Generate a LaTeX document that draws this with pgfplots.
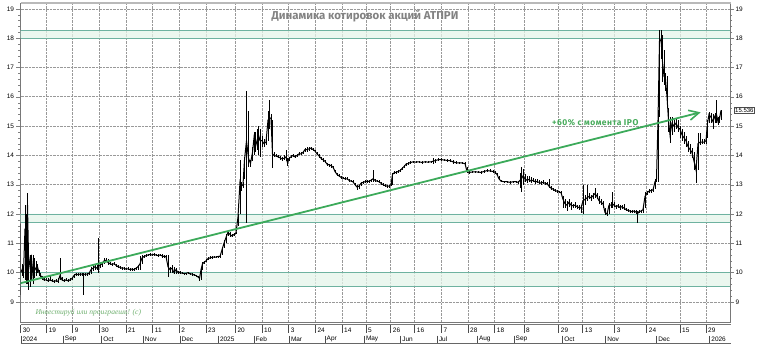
\documentclass[border=0pt]{standalone}
\usepackage{fontspec}
\setmainfont{Liberation Sans}
\newfontfamily\titlefont{Fira Sans}
\newfontfamily\greenfont[LetterSpace=6]{Fira Sans}
\newfontfamily\handfont{Liberation Serif}
\usepackage{pgfplots}
\usepackage{pgfplotstable}
\pgfplotsset{compat=1.18}
\usetikzlibrary{arrows.meta}
\definecolor{bandfill}{RGB}{228,244,234}
\definecolor{bandline}{RGB}{110,178,160}
\definecolor{trend}{RGB}{60,170,90}
\definecolor{txtgreen}{RGB}{70,170,90}
\definecolor{handgreen}{RGB}{110,175,110}
\definecolor{titlegray}{RGB}{130,130,130}
\definecolor{axgray}{RGB}{120,120,120}
\newcommand{\tickfont}{\fontsize{6.5}{7}\selectfont}

\pgfplotstableread{
x c lo hi
20.8 10.0 9.25 11.65
22 10.1 9.9 10.3
23.5 10.0 9.8 10.2
25 11.5 9.75 12.3
26.5 10.3 9.6 12.0
27.5 12.3 9.6 12.73
28.5 10.6 9.4 11.0
30 10.2 9.5 10.6
31.5 10.5 9.7 10.6
33 9.9 9.6 10.6
34.5 10.2 9.8 10.5
36 10.1 9.9 10.4
37.5 10.2 10.0 10.3
39 10.0 9.9 10.1
40.5 9.9 9.85 10.0
42 9.85 9.75 9.9
44 9.75 9.7 9.85
46 9.75 9.7 9.8
48 9.72 9.68 9.8
50 9.75 9.7 9.9
52 9.72 9.68 9.78
54 9.7 9.65 9.75
56 9.72 9.68 9.78
58 9.7 9.65 9.8
60 9.9 9.75 10.5
62 9.75 9.7 9.85
64 9.72 9.68 9.78
66 9.75 9.7 9.8
68 9.72 9.68 9.78
70 9.75 9.7 9.8
72 9.8 9.75 9.85
74 9.9 9.8 9.95
76 9.95 9.9 10.0
78 9.93 9.88 10.0
80 9.95 9.9 10.0
82 9.95 9.9 10.0
83.5 9.93 9.24 9.98
85 9.95 9.9 10.0
87 9.95 9.9 10.0
89 9.97 9.92 10.02
91 10.1 9.95 10.2
93 10.15 10.05 10.25
95 10.2 10.1 10.25
97 10.15 10.1 10.25
98.5 10.2 9.99 11.18
100 10.25 10.15 10.3
102 10.3 10.2 10.35
104 10.4 10.3 10.5
106 10.42 10.35 10.5
108 10.35 10.25 10.45
110 10.3 10.25 10.35
112 10.28 10.22 10.33
114 10.3 10.25 10.35
116 10.25 10.2 10.3
118 10.2 10.15 10.25
120 10.18 10.12 10.22
122 10.15 10.1 10.2
124 10.15 10.1 10.2
126 10.12 10.08 10.17
128 10.13 10.08 10.18
130 10.1 10.05 10.15
132 10.12 10.07 10.17
134 10.1 10.05 10.15
136 10.15 10.1 10.2
138 10.2 10.1 10.25
140 10.3 10.1 10.55
142 10.5 10.3 10.6
144 10.55 10.5 10.6
146 10.58 10.52 10.62
148 10.6 10.55 10.65
150 10.62 10.55 10.67
152 10.6 10.55 10.65
154 10.62 10.57 10.67
156 10.6 10.55 10.65
158 10.58 10.53 10.63
160 10.6 10.55 10.65
162 10.57 10.5 10.62
164 10.55 10.5 10.6
166 10.55 10.45 10.6
168 10.2 9.85 10.6
170 10.1 10.0 10.2
172 10.15 10.0 10.25
174 10.0 9.95 10.2
176 10.1 9.95 10.15
178 10.0 9.95 10.05
180 10.0 9.96 10.04
182 9.98 9.94 10.02
184 9.97 9.93 10.0
186 9.97 9.93 10.0
188 10.0 9.95 10.03
190 9.96 9.92 10.0
192 9.95 9.9 9.98
194 9.92 9.88 9.96
196 9.9 9.85 9.93
198 9.85 9.8 9.9
199.5 9.8 9.72 9.85
201 10.1 9.75 10.2
202.5 10.3 10.1 10.35
204 10.35 10.28 10.4
206 10.4 10.35 10.45
208 10.48 10.42 10.52
210 10.5 10.45 10.55
212 10.52 10.48 10.56
214 10.53 10.5 10.56
216 10.53 10.5 10.56
218 10.55 10.5 10.58
220 10.55 10.5 10.6
222 10.78 10.6 10.85
224 11.0 10.85 11.1
226 11.2 11.0 11.3
228 11.38 11.25 11.45
230 11.3 11.2 11.4
232 11.25 11.2 11.3
234 11.3 11.25 11.35
236 11.35 11.3 11.4
238 11.9 11.6 12.0
240 13.1 12.0 13.85
241.5 12.95 12.8 13.1
243 13.0 12.9 13.1
244.5 13.85 13.2 13.95
246.5 14.5 11.7 16.18
248.5 13.9 13.6 15.5
250.5 13.72 13.6 13.85
252.5 14.1 13.8 14.3
254 14.6 14.0 14.8
255.5 14.3 14.1 14.8
257 14.5 14.2 14.9
258.5 14.7 14.0 15.0
260 14.5 13.95 14.9
262 14.5 14.3 14.65
264 14.4 14.3 14.55
266 14.45 14.35 14.6
268 15.2 14.5 15.5
269.5 15.3 14.9 15.89
271 15.25 14.9 15.4
272.5 14.05 13.57 15.2
274 14.0 13.95 14.1
276 13.98 13.93 14.05
278 13.95 13.9 14.0
280 13.92 13.85 13.98
282 13.88 13.82 13.95
284 13.9 13.85 14.0
286 13.95 13.8 14.2
287.5 13.75 13.65 13.9
289 13.9 13.8 13.95
291 13.95 13.9 14.0
293 14.0 13.95 14.05
295 13.95 13.9 14.0
297 14.0 13.95 14.05
299 14.05 14.0 14.1
301 14.05 14.0 14.12
303 14.1 14.05 14.15
305 14.2 14.1 14.25
307 14.2 14.12 14.3
309 14.22 14.15 14.3
311 14.25 14.2 14.3
313 14.2 14.15 14.25
315 14.15 14.1 14.2
317 14.05 14.0 14.1
319 13.98 13.9 14.05
321 13.9 13.85 13.95
323 13.85 13.78 13.9
325 13.8 13.75 13.85
327 13.7 13.65 13.75
329 13.68 13.6 13.72
331 13.65 13.58 13.7
333 13.6 13.55 13.65
335 13.45 13.4 13.5
337 13.35 13.3 13.4
339 13.3 13.25 13.35
341 13.25 13.2 13.3
343 13.22 13.18 13.26
345 13.2 13.15 13.25
347 13.2 13.15 13.25
349 13.15 13.1 13.2
351 13.12 13.08 13.16
353 13.1 13.05 13.15
355 13.0 12.95 13.05
357 12.92 12.82 12.98
359 12.95 12.85 13.0
361 13.05 12.95 13.1
363 13.08 13.02 13.12
365 13.1 13.05 13.15
367 13.1 13.05 13.15
369 13.12 13.05 13.16
371 13.15 13.1 13.2
373 13.2 13.1 13.5
375 13.15 13.1 13.2
377 13.12 13.08 13.16
379 13.1 13.05 13.15
381 13.05 13.0 13.1
383 13.0 12.95 13.05
385 12.97 12.93 13.02
387 12.95 12.9 13.0
389 12.95 12.9 13.0
391 13.0 12.95 13.05
392.5 13.35 13.0 13.4
394 13.4 13.35 13.45
396 13.42 13.38 13.47
398 13.45 13.4 13.5
400 13.48 13.42 13.52
402 13.55 13.5 13.62
404 13.62 13.58 13.66
406 13.7 13.65 13.75
408 13.72 13.68 13.76
410 13.75 13.7 13.8
413 13.78 13.74 13.82
416 13.77 13.73 13.81
419 13.78 13.74 13.82
422 13.76 13.72 13.8
425 13.78 13.74 13.82
428 13.77 13.73 13.81
431 13.78 13.74 13.82
433 13.8 13.7 13.9
435 13.82 13.75 13.88
438 13.85 13.8 13.9
441 13.86 13.81 13.9
444 13.84 13.8 13.88
447 13.83 13.78 13.88
450 13.82 13.76 13.86
453 13.78 13.72 13.85
456 13.75 13.7 13.8
459 13.74 13.7 13.78
462 13.74 13.7 13.78
465 13.72 13.68 13.76
467 13.45 13.4 13.6
469 13.42 13.38 13.46
472 13.43 13.39 13.47
475 13.44 13.4 13.48
478 13.43 13.39 13.47
481 13.42 13.38 13.46
484 13.45 13.4 13.5
487 13.48 13.43 13.52
490 13.47 13.42 13.52
493 13.45 13.4 13.5
495 13.43 13.38 13.48
497 13.35 13.3 13.4
499 13.2 13.15 13.28
501 13.12 13.08 13.16
504 13.1 13.06 13.14
507 13.1 13.06 13.14
510 13.08 13.04 13.12
513 13.1 13.06 13.14
516 13.1 13.06 13.14
518 13.08 13.04 13.12
520 13.15 12.9 13.4
521.5 13.2 12.75 13.6
523 13.3 13.0 13.55
525 13.2 13.1 13.35
527 13.15 13.05 13.3
529 13.18 13.1 13.28
531 13.12 13.05 13.25
533 13.15 13.08 13.22
535 13.1 13.02 13.2
537 13.1 13.05 13.18
539 13.08 13.02 13.15
541 13.05 13.0 13.12
543 13.08 13.02 13.15
545 13.05 12.98 13.1
547 13.03 12.98 13.08
549 12.95 12.9 13.2
551 12.88 12.82 12.95
553 12.85 12.8 12.9
555 12.8 12.75 12.85
557 12.78 12.72 12.82
559 12.75 12.7 12.8
561 12.73 12.7 12.78
563 12.5 12.2 12.6
565 12.35 12.2 12.5
567 12.3 12.1 12.45
569 12.4 12.25 12.5
571 12.3 12.15 12.4
573 12.28 12.2 12.35
575 12.3 12.2 12.4
577 12.25 12.18 12.32
579 12.22 12.15 12.3
581 12.2 12.05 12.3
583 12.45 12.0 13.0
585 12.5 12.3 12.65
587 12.55 12.45 13.0
589 12.6 12.5 12.7
591 12.55 12.45 12.65
593 12.62 12.5 12.7
595 12.7 12.55 12.9
597 12.6 12.5 12.72
599 12.45 12.35 12.6
601 12.4 12.3 12.5
603 12.35 12.2 12.45
605 12.05 11.95 12.2
607 12.0 11.92 12.1
609 12.3 12.0 12.38
611 12.3 12.2 12.4
612.5 12.35 12.2 12.75
614 12.3 12.25 12.4
616 12.25 12.18 12.32
618 12.28 12.2 12.35
620 12.22 12.15 12.3
622 12.25 12.18 12.32
624 12.2 12.12 12.35
626 12.15 12.1 12.2
628 12.12 12.08 12.18
630 12.1 12.05 12.15
632 12.08 12.03 12.12
634 12.1 12.05 12.15
636 12.07 12.0 12.12
637.5 12.0 11.7 12.1
639 12.08 12.02 12.12
641 12.1 12.05 12.15
643 12.15 12.05 12.25
645 12.6 12.2 12.75
647 12.72 12.65 12.8
649 12.78 12.7 12.85
651 12.8 12.72 12.85
653 12.82 12.75 12.88
655 13.1 12.85 13.2
656.5 13.2 13.1 13.3
658 15.2 13.1 15.55
659.5 17.9 15.3 18.28
661 17.95 17.3 18.28
662.5 17.2 16.5 18.1
664 16.7 16.4 17.6
665.5 16.6 16.2 16.8
667 16.0 15.6 16.7
668.5 15.2 14.8 15.6
670 14.7 14.43 15.3
672 15.1 14.7 15.3
674 15.0 14.8 15.2
676 15.1 14.9 15.25
678 14.95 14.8 15.2
680 14.9 14.6 15.0
682 14.7 14.5 14.9
684 14.6 14.4 14.8
686 14.5 14.3 14.65
688 14.3 14.1 14.5
690 14.2 14.05 14.4
692 14.1 13.9 14.25
694 13.8 13.5 14.1
696 13.5 13.06 13.8
698 14.4 13.5 14.77
700 14.45 14.35 14.75
702 14.45 14.4 14.55
704 14.45 14.4 14.55
706 14.5 14.4 14.6
707.5 15.1 14.6 15.2
709 15.4 15.1 15.48
711 15.3 15.1 15.45
713 15.15 14.9 15.4
715 15.35 15.1 15.45
716.5 15.4 15.1 15.89
718 15.15 15.05 15.3
719.5 15.25 15.1 15.35
721 15.536 15.2 15.55
}\prices

\begin{document}
\begin{tikzpicture}
\path[use as bounding box] (-20.5bp,-29.3bp) rectangle (737.5bp,322.7bp);
\begin{axis}[
  scale only axis, width=710bp, height=319.7bp,
  xmin=20.5, xmax=730.5, ymin=8.29, ymax=19.2,
  /pgf/number format/assume math mode=true,
  tick label style={font=\tickfont},
  ytick={9,...,19}, minor y tick num=4,
  xtick={20.7,46.7,72.7,99.3,126,152.7,179.3,206,235.3,262,288.7,315.3,342,366,390.7,414.7,441.3,468,494.7,524,558.7,582.7,614.7,646.7,680,706},
  xticklabels={},
  x tick style={draw=none},
  tick align=outside,
  major tick length=4bp, minor tick length=2bp,
  ytick pos=left,
  yticklabel style={xshift=1bp},
  grid=major,
  grid style={densely dotted, gray!80, line width=0.55bp},
  axis line style={axgray, line width=0.6bp},
  clip=true,
]
% support bands
\addplot[fill=bandfill, fill opacity=0.75, draw=bandline, line width=0.9bp] coordinates {(20.5,18.0) (730.5,18.0) (730.5,18.25) (20.5,18.25) (20.5,18.0)};
\addplot[fill=bandfill, fill opacity=0.75, draw=bandline, line width=0.9bp] coordinates {(20.5,11.72) (730.5,11.72) (730.5,12.0) (20.5,12.0) (20.5,11.72)};
\addplot[fill=bandfill, fill opacity=0.75, draw=bandline, line width=0.9bp] coordinates {(20.5,9.52) (730.5,9.52) (730.5,10.0) (20.5,10.0) (20.5,9.52)};
% price
\addplot[black, line width=1bp, mark=none,
  error bars/.cd, y dir=both, y explicit, error mark=none,
  error bar style={black, line width=0.9bp}]
  table[x=x, y=c, y error plus expr=\thisrow{hi}-\thisrow{c}, y error minus expr=\thisrow{c}-\thisrow{lo}] {\prices};
% trend arrow
\addplot[trend, line width=1.8bp, -{Straight Barb[length=10bp, width=10bp, line width=1.6bp]}] coordinates {(20.7,9.64) (700.7,15.47)};
\end{axis}
% right axis
\begin{axis}[
  scale only axis, width=710bp, height=319.7bp,
  xmin=20.5, xmax=730.5, ymin=8.29, ymax=19.2,
  /pgf/number format/assume math mode=true,
  tick label style={font=\tickfont},
  axis x line=none, axis y line*=right,
  ytick={9,...,19}, minor y tick num=4,
  tick align=outside, major tick length=3bp, minor tick length=1.5bp,
  yticklabel style={xshift=-1.5bp},
  axis line style={axgray, line width=0.6bp},
]
\addplot[draw=none] coordinates {(100,10)};
\end{axis}
% top border
\draw[gray!55, line width=2bp] (0,319.7bp) -- (710bp,319.7bp);
% bottom double line
\draw[axgray, line width=0.6bp] (0,-1.2bp) -- (710bp,-1.2bp);
% x labels: day row
\foreach \p/\l in {20.7/30,46.7/19,72.7/9,99.3/30,126/21,152.7/11,179.3/2,206/23,235.3/20,262/10,288.7/3,315.3/24,342/14,366/5,390.7/26,414.7/16,441.3/7,468/28,494.7/18,524/8,558.7/29,582.7/13,614.7/3,646.7/24,680/15,706/29}{
  \draw[black!70, line width=0.5bp] ({(\p-20.5)*1bp},-2bp) -- ({(\p-20.5)*1bp},-10.5bp);
  \node[anchor=west, inner sep=0pt, font=\tickfont] at ({(\p-20.5)*1bp+2bp},-7.2bp) {\l};
}
% month row
\foreach \p/\l in {21/2024,63.3/Sep,101.7/Oct,143.3/Nov,180/Dec,218.3/2025,254/Feb,289.3/Mar,325/Apr,364.3/May,400.7/Jun,437.3/Jul,477.3/Aug,514/Sep,562.7/Oct,605.7/Nov,656.7/Dec,709.7/2026}{
  \draw[black!70, line width=0.5bp] ({(\p-20.5)*1bp},-13bp) -- ({(\p-20.5)*1bp},-21bp);
  \node[anchor=west, inner sep=0pt, font=\tickfont] at ({(\p-20.5)*1bp+1.5bp},-16.3bp) {\l};
}
\draw[black!60, line width=0.5bp] (0,-21bp) -- (710bp,-21bp);
% title and annotations
\node[font=\titlefont\bfseries\fontsize{11.5}{13}\selectfont, text=titlegray] at (344.5bp,306.5bp) {Динамика котировок акций АТПРИ};
\node[font=\greenfont\bfseries\fontsize{8.5}{10}\selectfont, text=txtgreen] at (574.7bp,200bp) {+60\% с момента IPO};
\node[anchor=west, font=\handfont\itshape\fontsize{7.6}{9}\selectfont, text=handgreen] at (11.5bp,10bp) {Инвестируй или проиграешь! (c)};
\node[anchor=west, draw=black!70, line width=0.4bp, fill=white, inner sep=1bp, font=\fontsize{6}{7}\selectfont] at (713.5bp,212.3bp) {15.536};
\end{tikzpicture}
\end{document}
